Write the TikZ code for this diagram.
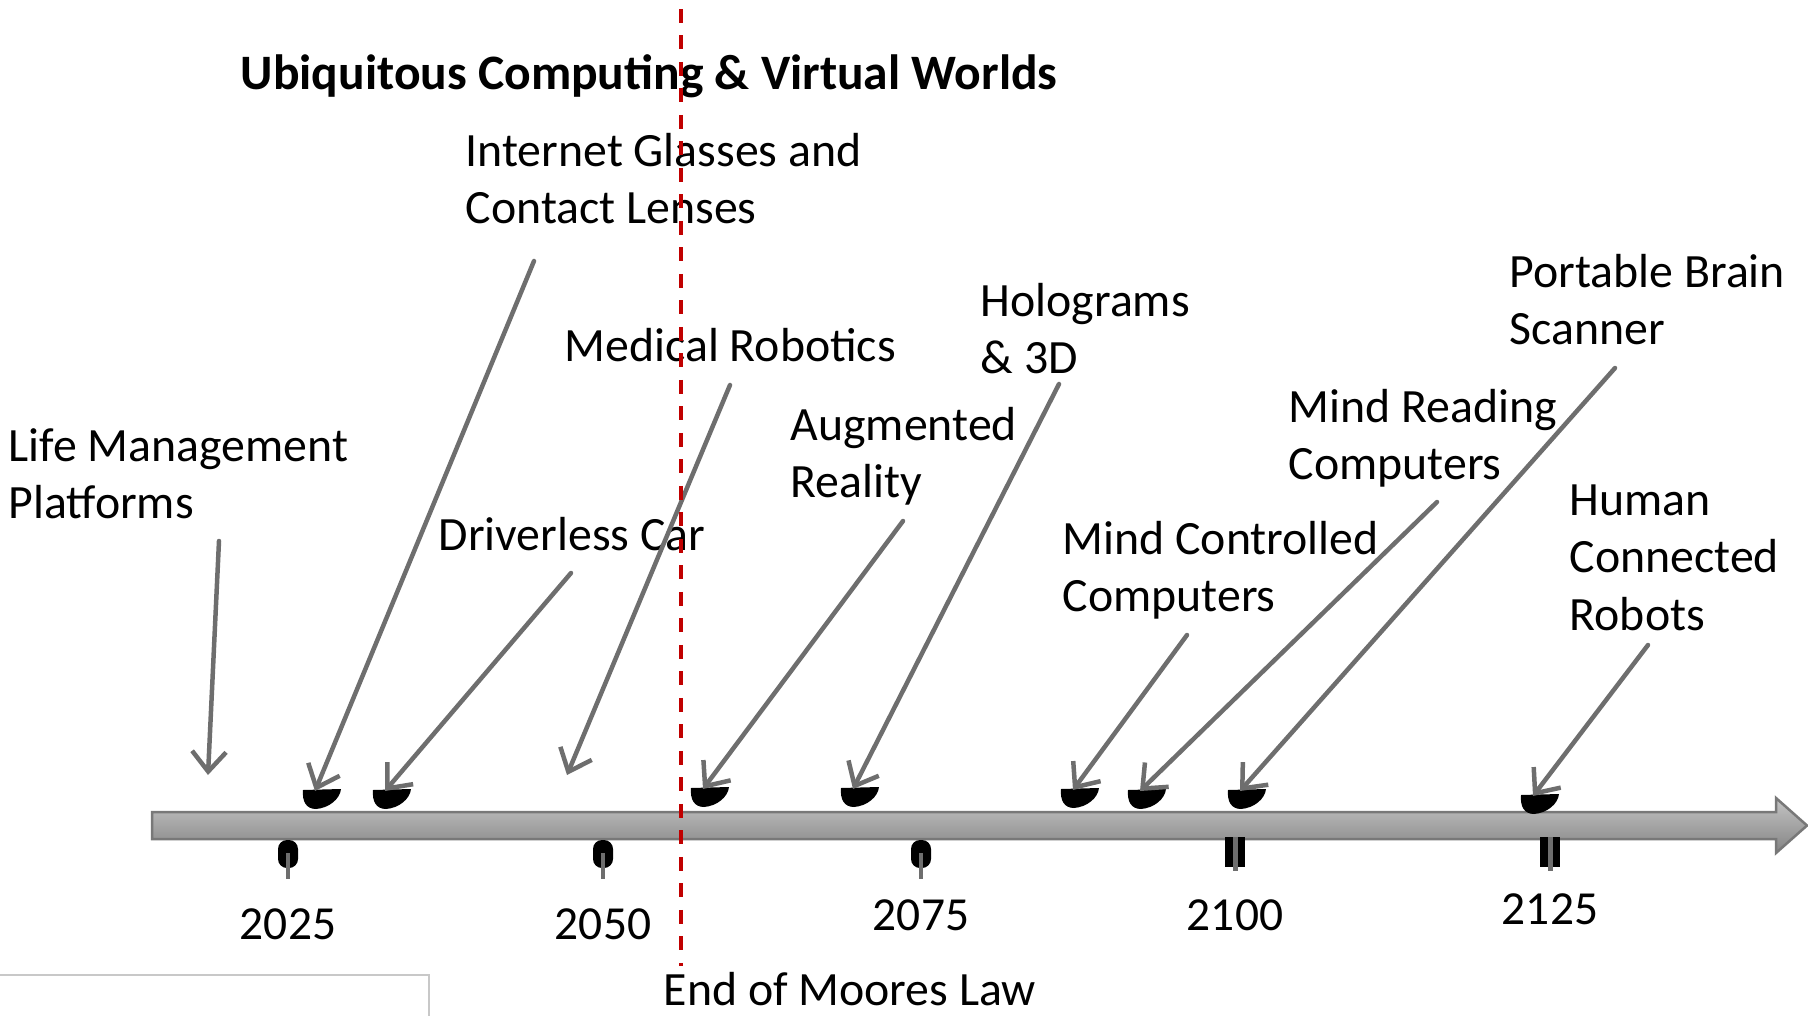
\documentclass[tikz,border=0pt]{standalone}
\usepackage{fontspec}
\setmainfont{Carlito}
\usetikzlibrary{arrows.meta}

\definecolor{pointgray}{RGB}{110,110,110}
\definecolor{mooresred}{RGB}{192,0,0}
\definecolor{boxgray}{RGB}{200,200,200}

\tikzset{
	txt/.style={anchor=north west, inner sep=0pt, align=left, font=\fontsize{13.6}{16.4}\selectfont},
	yearlbl/.style={anchor=base, inner sep=0pt, font=\fontsize{13.5}{16.4}\selectfont},
	pointer/.style={draw=pointgray, line width=0.45mm, line cap=round, -{Straight Barb[length=2mm,width=3.4mm,line width=0.45mm]}},
	blob/.pic={\fill (-12,-1) -- (26,-2) .. controls (25,8) and (14,17) .. (1,18) .. controls (-9,18) and (-13,10) .. cycle;},
	tickround/.pic={\fill [rounded corners=0.9mm] (-10,840) rectangle (10,868); \draw [pointgray, line width=0.35mm] (0,853) -- (0,879);},
	tickdouble/.pic={\fill (-10,837) rectangle (10,867); \draw [pointgray, line width=0.5mm] (0,837) -- (0,871);}
}

\begin{document}
\begin{tikzpicture}[x=0.1mm,y=-0.1mm]
	\useasboundingbox (0,0) rectangle (1808,1015);

	% time bar
	\draw [draw={rgb,255:red,120;green,120;blue,120}, line width=0.25mm, top color={rgb,255:red,196;green,196;blue,196}, bottom color={rgb,255:red,132;green,132;blue,132}]
		(152,812) -- (1776,812) -- (1776,798) -- (1807,825.5) -- (1776,853) -- (1776,839) -- (152,839) -- cycle;

	\pic at (288,0) {tickround};
	\pic at (603,0) {tickround};
	\pic at (921,0) {tickround};
	\pic at (1235,0) {tickdouble};
	\pic at (1550,0) {tickdouble};

	\node (y2025) [yearlbl] at (288,939) {2025};
	\node (y2050) [yearlbl] at (603,939) {2050};
	\node (y2075) [yearlbl] at (921,930) {2075};
	\node (y2100) [yearlbl] at (1235,930) {2100};
	\node (y2125) [yearlbl] at (1550,924) {2125};

	% labels
	\node (title) [txt, font=\fontsize{14.1}{16.4}\selectfont\bfseries] at (240,48) {\strut Ubiquitous Computing \& Virtual Worlds};
	\node (glasses) [txt] at (465,125) {\strut Internet Glasses and\\Contact Lenses};
	\node (medical) [txt] at (564,320) {\strut Medical Robotics};
	\node (holo) [txt] at (980,275) {\strut Holograms\\\& 3D};
	\node (brain) [txt] at (1509,246) {\strut Portable Brain\\Scanner};
	\node (life) [txt] at (8,420) {\strut Life Management\\Platforms};
	\node (augmented) [txt] at (790,399) {\strut Augmented\\Reality};
	\node (reading) [txt] at (1288,381) {\strut Mind Reading\\Computers};
	\node (driverless) [txt] at (438,509) {\strut Driverless Car};
	\node (controlled) [txt] at (1062,513) {\strut Mind Controlled\\Computers};
	\node (human) [txt] at (1569,474) {\strut Human\\Connected\\Robots};
	\node (moores) [txt] at (663,964) {\strut End of Moores Law};

	% arrow ends
	\coordinate (lifeS) at (219,541);        \coordinate (lifeE) at (208,775);
	\coordinate (glassesS) at (534,261);     \coordinate (glassesE) at (315,791);
	\coordinate (driverlessS) at (571,573);  \coordinate (driverlessE) at (385,791);
	\coordinate (medicalS) at (730,385);     \coordinate (medicalE) at (567,775);
	\coordinate (augmentedS) at (903,521);   \coordinate (augmentedE) at (703,789);
	\coordinate (holoS) at (1059,384);       \coordinate (holoE) at (853,789);
	\coordinate (controlledS) at (1187,635); \coordinate (controlledE) at (1073,790);
	\coordinate (readingS) at (1437,502);    \coordinate (readingE) at (1140,791);
	\coordinate (brainS) at (1615,368);      \coordinate (brainE) at (1240,791);
	\coordinate (humanS) at (1648,645);      \coordinate (humanE) at (1533,796);

	\foreach \n in {glassesE,driverlessE,augmentedE,holoE,controlledE,readingE,brainE,humanE}
		\pic at (\n) {blob};

	\foreach \n in {life,glasses,driverless,medical,augmented,holo,controlled,reading,brain,human}
		\draw [pointer] (\n S) -- (\n E);

	% moores law
	\coordinate (mooresTop) at (681,9);
	\coordinate (mooresBot) at (681,966);
	\draw [mooresred, line width=0.42mm, dash pattern=on 1.4mm off 1.25mm] (mooresTop) -- (mooresBot);

	\draw [boxgray, line width=0.2mm] (-5,975) -- (429,975) -- (429,1020);
\end{tikzpicture}
\end{document}
